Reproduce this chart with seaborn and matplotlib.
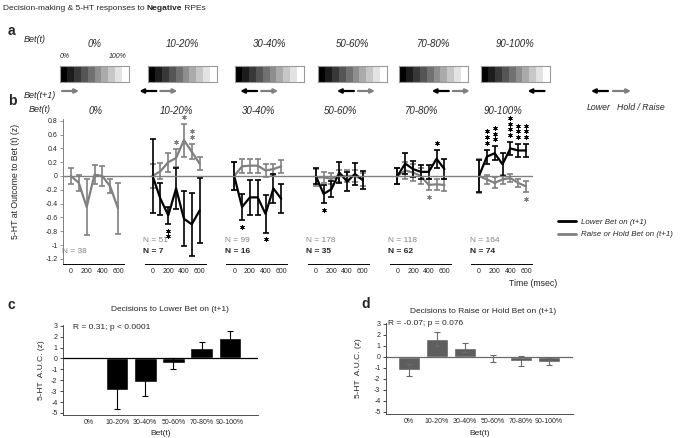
import numpy as np
import pandas as pd
import seaborn as sns
import matplotlib.pyplot as plt
from matplotlib.lines import Line2D
from matplotlib.transforms import blended_transform_factory

sns.set_theme(style='white')
plt.rcParams['font.family'] = ['Liberation Sans', 'DejaVu Sans']
plt.rcParams['axes.unicode_minus'] = False

# ---- data ----
bet_bins = ['0%', '10-20%', '30-40%', '50-60%', '70-80%', '90-100%']
bet_mid = [0.0, 0.15, 0.35, 0.55, 0.75, 0.95]   # where the arrows sit in panel a
can_lower = [False, True, True, True, True, True]
can_raise = [True, True, True, True, True, False]
times = [0, 100, 200, 300, 400, 500, 600]

lower_mean = [
    None,
    [0, -0.33, -0.57, -0.18, -0.62, -0.70, -0.50],
    [0, -0.45, -0.31, -0.31, -0.55, -0.18, -0.33],
    [0, -0.26, -0.19, 0.05, -0.08, 0.03, -0.06],
    [0, 0.18, 0.10, 0.06, 0.06, 0.25, 0.10],
    [0, 0.28, 0.33, 0.17, 0.40, 0.37, 0.37],
]
lower_err = [
    None,
    [0.54, 0.23, 0.12, 0.30, 0.40, 0.46, 0.47],
    [0.20, 0.19, 0.25, 0.25, 0.27, 0.21, 0.21],
    [0.12, 0.13, 0.12, 0.15, 0.14, 0.16, 0.13],
    [0.11, 0.15, 0.12, 0.10, 0.10, 0.13, 0.14],
    [0.23, 0.10, 0.10, 0.17, 0.09, 0.09, 0.09],
]
raise_mean = [
    [0, -0.10, -0.45, 0.02, 0.0, -0.15, -0.47],
    [0, 0.07, 0.20, 0.26, 0.52, 0.35, 0.18],
    [0, 0.14, 0.15, 0.15, 0.08, 0.10, 0.14],
    [-0.02, -0.02, -0.04, 0.0, 0.0, 0.0, -0.05],
    [0, 0.08, 0.05, 0.0, -0.13, -0.12, -0.13],
    [0, -0.05, -0.10, -0.05, -0.03, -0.10, -0.15],
]
raise_err = [
    [0.12, 0.12, 0.41, 0.14, 0.15, 0.10, 0.37],
    [0.17, 0.12, 0.14, 0.13, 0.24, 0.11, 0.10],
    [0.20, 0.10, 0.10, 0.10, 0.09, 0.08, 0.09],
    [0.12, 0.08, 0.08, 0.08, 0.08, 0.08, 0.10],
    [0.12, 0.12, 0.12, 0.12, 0.08, 0.08, 0.09],
    [0.25, 0.07, 0.08, 0.07, 0.06, 0.06, 0.08],
]
n_raise = [38, 51, 99, 178, 118, 164]
n_lower = [None, 7, 16, 35, 62, 74]

# significance stars: bin, time, series, number of stars
star_bin = [1, 1, 1, 1, 2, 2, 3, 4, 4, 5, 5, 5, 5, 5, 5]
star_time = [300, 400, 500, 200, 100, 400, 100, 500, 400, 100, 200, 400, 500, 600, 600]
star_series = ['raise', 'raise', 'raise', 'lower', 'lower', 'lower', 'lower', 'lower',
               'raise', 'lower', 'lower', 'lower', 'lower', 'lower', 'raise']
star_count = [1, 1, 2, 2, 1, 1, 1, 1, 1, 3, 3, 4, 3, 3, 1]

auc_lower = [np.nan, -2.90, -2.17, -0.45, 0.92, 1.88]
auc_lower_err = [np.nan, 1.75, 1.25, 0.52, 0.55, 0.60]
auc_raise = [-1.20, 1.60, 0.80, -0.13, -0.36, -0.45]
auc_raise_err = [0.57, 0.65, 0.40, 0.33, 0.45, 0.30]

GRAY = '#808080'
W, H = 685, 438


def box(x0, y0, x1, y1):
    return [x0 / W, 1 - y1 / H, (x1 - x0) / W, (y1 - y0) / H]


fig = plt.figure(figsize=(W / 100, H / 100), dpi=100)

# pixel-coordinate overlay for labels and arrows
ov = fig.add_axes([0, 0, 1, 1], zorder=10)
ov.set_xlim(0, W)
ov.set_ylim(H, 0)
ov.axis('off')
ov.patch.set_alpha(0)

# title with bold word
r = fig.canvas.get_renderer()
x = 3
for part, wt in [('Decision-making & 5-HT responses to ', 'normal'), ('Negative', 'bold'), (' RPEs', 'normal')]:
    t = ov.text(x, 8, part, fontsize=6, fontweight=wt, va='center', ha='left')
    x = t.get_window_extent(r).x1

for lab, (lx, ly) in zip('abcd', [(8, 31), (8, 101), (8, 305), (361, 304)]):
    ov.text(lx, ly, lab, fontsize=10, fontweight='bold', va='center', ha='left')

# ---- panel a: bet scales ----
box_left = [60, 148, 235, 318, 399, 481]
box_w = 69
ov.text(24, 39, 'Bet(t)', fontsize=6.5, style='italic', va='center')
ov.text(24, 95, 'Bet(t+1)', fontsize=6.5, style='italic', va='center')
ov.text(box_left[0], 57, '0%', fontsize=5, style='italic', va='center')
ov.text(box_left[0] + box_w - 2, 57, '100%', fontsize=5, style='italic', va='center', ha='right')
for i, b in enumerate(bet_bins):
    axa = fig.add_axes(box(box_left[i], 66, box_left[i] + box_w, 82))
    sns.heatmap(np.linspace(0, 1, 10).reshape(1, -1), cmap='gray', vmin=0, vmax=1,
                cbar=False, xticklabels=False, yticklabels=False, ax=axa)
    for sp in axa.spines.values():
        sp.set_visible(True)
        sp.set_color('#9a9a9a')
        sp.set_linewidth(0.8)
    ov.text(box_left[i] + box_w / 2, 44, b, fontsize=7, style='italic', ha='center', va='center')
    xm = box_left[i] + bet_mid[i] * box_w
    if can_lower[i]:
        ov.annotate('', xy=(xm - 19, 91), xytext=(xm - 2, 91),
                    arrowprops=dict(arrowstyle='-|>', color='black', lw=1.6,
                                    mutation_scale=6, shrinkA=0, shrinkB=0))
    if can_raise[i]:
        ov.annotate('', xy=(xm + 19, 91), xytext=(xm + 2, 91),
                    arrowprops=dict(arrowstyle='-|>', color=GRAY, lw=1.6,
                                    mutation_scale=6, shrinkA=0, shrinkB=0))
ov.annotate('', xy=(591, 91), xytext=(608, 91),
            arrowprops=dict(arrowstyle='-|>', color='black', lw=1.6, mutation_scale=6, shrinkA=0, shrinkB=0))
ov.annotate('', xy=(631, 91), xytext=(613, 91),
            arrowprops=dict(arrowstyle='-|>', color=GRAY, lw=1.6, mutation_scale=6, shrinkA=0, shrinkB=0))
ov.text(599, 107, 'Lower', fontsize=6.3, style='italic', ha='center', va='center')
ov.text(641, 107, 'Hold / Raise', fontsize=6.3, style='italic', ha='center', va='center')

# ---- panel b: time courses ----
s = 47 / 600
y_lo, y_hi = -1.28, 0.82
zero_px, unit_px = 176, 69
ax_top = zero_px - y_hi * unit_px
ax_bot = zero_px - y_lo * unit_px
axes_b = []
ov.text(29, 109, 'Bet(t)', fontsize=6.5, style='italic', va='center')
for i, b in enumerate(bet_bins):
    x0 = 71 + i * 81.6
    ax = fig.add_axes(box(x0 - 100 * s, ax_top, x0 + 680 * s, ax_bot))
    ax.patch.set_alpha(0)
    series = [('raise', raise_mean[i], raise_err[i], GRAY),
              ('lower', lower_mean[i], lower_err[i], 'black')]
    for name, m, e, c in series:
        if m is None:
            continue
        sns.lineplot(x=times, y=m, color=c, linewidth=1.6, ax=ax)
        ax.errorbar(times, m, yerr=e, fmt='none', ecolor=c, elinewidth=1.2,
                    capsize=2, capthick=1.2)
    ax.set_xlim(-100, 680)
    ax.set_ylim(y_lo, y_hi)
    ax.set_xticks([0, 200, 400, 600])
    ax.tick_params(axis='x', labelsize=5, length=0, pad=3)
    ax.text(310, 0.94, b, fontsize=7, style='italic', ha='center', va='center')
    for sp in ['top', 'right']:
        ax.spines[sp].set_visible(False)
    ax.spines['bottom'].set_color('black')
    ax.spines['bottom'].set_linewidth(0.7)
    if i == 0:
        yt = np.arange(-1.2, 0.81, 0.2)
        ax.set_yticks(yt)
        ax.set_yticklabels([f'{round(v, 1) + 0.0:g}' for v in yt])
        ax.tick_params(axis='y', labelsize=5, length=2, width=0.6, left=True, pad=2, color=GRAY)
        ax.spines['left'].set_color(GRAY)
        ax.spines['left'].set_linewidth(0.7)
        ax.set_ylabel('5-HT at Outcome to Bet (t) (z)', fontsize=6.3)
        ax.yaxis.set_label_coords(-0.70, 0.57)
    else:
        ax.spines['left'].set_visible(False)
        ax.set_yticks([])
    if n_lower[i] is not None:
        ax.text(-120, -0.94, f'N = {n_raise[i]}', fontsize=6, color=GRAY, va='center')
        ax.text(-120, -1.09, f'N = {n_lower[i]}', fontsize=6, fontweight='bold', va='center')
    else:
        ax.text(-120, -1.09, f'N = {n_raise[i]}', fontsize=6, color=GRAY, va='center')
    ax.set_xlabel('')
    axes_b.append(ax)

# significance asterisks stacked beyond the error bar
for bi, t, ser, cnt in zip(star_bin, star_time, star_series, star_count):
    k = times.index(t)
    m = (lower_mean if ser == 'lower' else raise_mean)[bi][k]
    e = (lower_err if ser == 'lower' else raise_err)[bi][k]
    c = 'black' if ser == 'lower' else GRAY
    sign = 1 if m >= 0 else -1
    ys = [m + sign * (e + 0.1 + j * 0.085) for j in range(cnt)]
    axes_b[bi].scatter([t] * cnt, ys, marker=(6, 2, 0), s=8, color=c,
                       linewidths=0.6, clip_on=False)

# zero line across all time-course panels
x_start = axes_b[0].get_position().x0
x_end = axes_b[-1].get_position().x1
tr = blended_transform_factory(fig.transFigure, axes_b[0].transData)
fig.add_artist(Line2D([x_start, x_end], [0, 0], transform=tr, color=GRAY, lw=1))

fig.legend(handles=[Line2D([], [], color='black', lw=2), Line2D([], [], color=GRAY, lw=2)],
           labels=['Lower Bet on (t+1)', 'Raise or Hold Bet on (t+1)'],
           loc='center left', bbox_to_anchor=(558 / W, 1 - 228.5 / H), frameon=False,
           prop=dict(style='italic', size=5.7), handlelength=2.3, handletextpad=0.6,
           labelspacing=0.6, borderpad=0, borderaxespad=0)
ov.text(533, 283, 'Time (msec)', fontsize=6.3, ha='center', va='center')

# ---- panels c and d: AUC bars ----
bar_specs = [
    (box(63, 325.2, 258, 415.1), auc_lower, auc_lower_err, 'black', 'black',
     'Decisions to Lower Bet on (t+1)', 'R = 0.31; p < 0.0001', (-0.55, 2.88), (0.55, 1.17),
     (-0.92, 6.0), -0.092),
    (box(386, 323, 573, 414.2), auc_raise, auc_raise_err, '#5e5e5e', '#6a6a6a',
     'Decisions to Raise or Hold Bet on (t+1)', 'R = -0.07; p = 0.076', (-0.75, 3.0), (0.52, 1.13),
     (-0.82, 5.86), -0.128),
]
for pos, vals, errs, col, ecol, title, rtxt, rxy, txy, xl, ylx in bar_specs:
    ax = fig.add_axes(pos)
    ax.patch.set_alpha(0)
    df = pd.DataFrame({'bet': bet_bins, 'auc': vals})
    sns.barplot(data=df, x='bet', y='auc', order=bet_bins, color=col, saturation=1,
                width=0.8, errorbar=None, ax=ax)
    ax.errorbar(np.arange(len(bet_bins)), vals, yerr=errs, fmt='none', ecolor=ecol,
                elinewidth=0.8, capsize=2, capthick=0.8)
    ax.axhline(0, color=ecol, lw=0.9)
    ax.set_xlim(*xl)
    ax.set_ylim(-5.2, 3.05)
    ax.set_yticks(range(-5, 4))
    ax.tick_params(axis='y', labelsize=5, length=2, width=0.6, left=True, pad=2)
    ax.tick_params(axis='x', labelsize=5, length=0, pad=3)
    for sp in ['top', 'right']:
        ax.spines[sp].set_visible(False)
    for sp in ['left', 'bottom']:
        ax.spines[sp].set_color('#333333')
        ax.spines[sp].set_linewidth(0.6)
    ax.set_xlabel('Bet(t)', fontsize=6, labelpad=3)
    ax.set_ylabel('5-HT  A.U.C. (z)', fontsize=6)
    ax.yaxis.set_label_coords(ylx, 0.5)
    ax.text(rxy[0], rxy[1], rtxt, fontsize=6, va='center', ha='left')
    ax.text(txy[0], txy[1], title, fontsize=6, ha='center', va='center', transform=ax.transAxes)

fig.savefig('out.png', dpi=100)
